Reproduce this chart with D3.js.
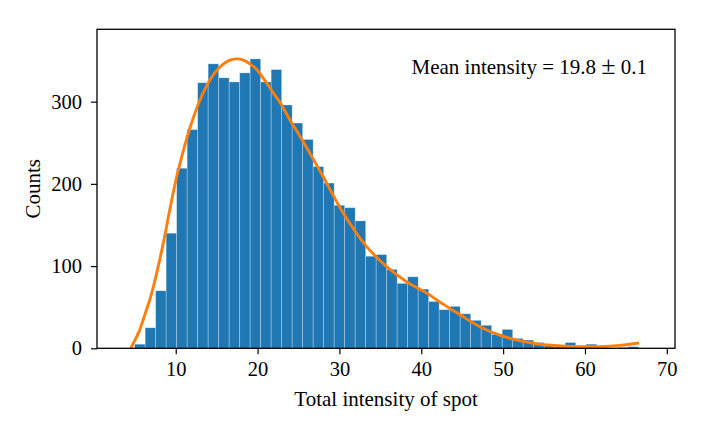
<!doctype html>
<html lang="en">
<head>
<meta charset="utf-8">
<title>Total intensity of spot</title>
<script src="https://cdnjs.cloudflare.com/ajax/libs/d3/7.8.5/d3.min.js"></script>
<style>
    body {
        margin: 0;
        background: #fff;
    }
    text {
        font-family: "Liberation Serif", "Times New Roman", serif;
        fill: #000;
    }
</style>
</head>
<body>
<script>

// histogram counts, one per bin
var counts = [5, 25, 70, 140, 219, 266, 323, 346, 329, 324, 335, 352, 324, 339,
    296, 274, 254, 221, 201, 174, 171, 155, 112, 114, 96, 79, 87, 72, 57, 47,
    51, 42, 34, 28, 17, 23, 12, 10, 7, 5, 3, 7, 3, 5, 1, 0, 1, 2];
var binStart = 4.98,
    binWidth = 1.283;

// fitted curve
var fitX = [4.5, 5.5, 6.2, 7.0, 7.8, 8.6, 9.3, 10.1, 11.0, 11.8, 12.6, 13.5, 14.4,
    15.2, 16.0, 16.8, 17.6, 18.4, 19.2, 20.0, 20.8, 21.9, 22.8, 24.0, 25.6, 28.0,
    30.5, 33.3, 35.8, 38.2, 40.7, 42.3, 43.1, 44.7, 47.2, 49.6, 52.1, 54.5, 57.0,
    59.4, 61.8, 64.3, 66.6];
var fitY = [0, 20, 40, 65, 97, 134, 170, 208, 243, 270, 293, 314, 330,
    340, 347, 351, 352, 350, 345, 338, 327, 311, 298, 277, 251, 209,
    164, 124, 99, 81, 67, 56, 51, 41, 26, 16, 9, 5, 3,
    2, 2, 3.5, 6.5];

var xTicks = [10, 20, 30, 40, 50, 60, 70];
var yTicks = [0, 100, 200, 300];
var noteParts = ["Mean intensity = 19.8 ", "\u00b1", " 0.1"];

var width = 705,
    height = 436,
    // plot box (named so they don't clash with window.top)
    pLeft = 97, pRight = 675, pTop = 29.3, pBottom = 348.3;

var x = d3.scaleLinear().domain([0.38, 71.0]).range([pLeft, pRight]);
var y = d3.scaleLinear().domain([0, 388]).range([pBottom, pTop]);

var svg = d3.select("body").append("svg")
    .attr("width", width)
    .attr("height", height);

// bars
var bins = counts.map(function(c, i) {
    return {x0: binStart + i * binWidth, x1: binStart + (i + 1) * binWidth, n: c};
});

svg.append("g")
    .selectAll("rect")
    .data(bins)
    .join("rect")
    .attr("x", d => x(d.x0))
    .attr("y", d => y(d.n))
    .attr("width", d => x(d.x1) - x(d.x0))
    .attr("height", d => y(0) - y(d.n))
    .style("fill", "#1f77b4")
    .style("stroke", "#ffffff")
    .style("stroke-opacity", 0.35)
    .style("stroke-width", 0.8);

// fit line
var line = d3.line()
    .x(d => x(d[0]))
    .y(d => y(d[1]))
    .curve(d3.curveCatmullRom.alpha(0.5));

svg.append("path")
    .datum(fitX.map((v, i) => [v, fitY[i]]))
    .attr("d", line)
    .style("fill", "none")
    .style("stroke", "#ff7f0e")
    .style("stroke-width", 2.9);

// axes
var xAxis = svg.append("g")
    .attr("transform", "translate(0," + pBottom + ")")
    .call(d3.axisBottom(x).tickValues(xTicks).tickSize(6).tickPadding(7).tickFormat(d3.format("d")));

var yAxis = svg.append("g")
    .attr("transform", "translate(" + pLeft + ",0)")
    .call(d3.axisLeft(y).tickValues(yTicks).tickSize(6).tickPadding(9).tickFormat(d3.format("d")));

[xAxis, yAxis].forEach(function(a) {
    a.select(".domain").remove();
    a.selectAll("line").style("stroke", "#000").style("stroke-width", 1.2);
    a.selectAll("text")
        .style("font-family", "'Liberation Serif', 'Times New Roman', serif")
        .style("font-size", "20.5px")
        .style("fill", "#000");
});

// frame
svg.append("rect")
    .attr("x", pLeft)
    .attr("y", pTop)
    .attr("width", pRight - pLeft)
    .attr("height", pBottom - pTop)
    .style("fill", "none")
    .style("stroke", "#000")
    .style("stroke-width", 1.3);

// labels
svg.append("text")
    .attr("x", (pLeft + pRight) / 2)
    .attr("y", 406)
    .attr("text-anchor", "middle")
    .style("font-size", "21px")
    .text("Total intensity of spot");

svg.append("text")
    .attr("transform", "translate(40," + ((pTop + pBottom) / 2) + ") rotate(-90)")
    .attr("text-anchor", "middle")
    .style("font-size", "21px")
    .text("Counts");

var note = svg.append("text")
    .attr("x", 411.5)
    .attr("y", 74)
    .style("font-size", "21px");
note.selectAll("tspan")
    .data(noteParts)
    .join("tspan")
    .style("font-size", (d, i) => i === 1 ? "26px" : null)
    .text(d => d);

</script>
</body>
</html>
